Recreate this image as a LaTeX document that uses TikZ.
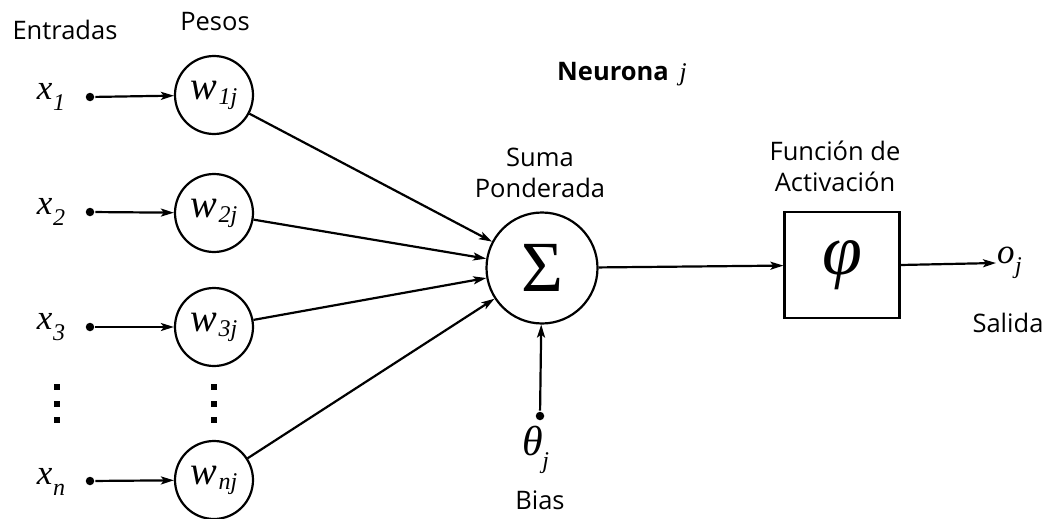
\documentclass[tikz,border=0pt]{standalone}
\usepackage{graphicx}
\usepackage{fontspec}
\setmainfont{Open Sans}
\newfontfamily\tm{Liberation Serif}
\usetikzlibrary{arrows.meta}
\newcommand\sbs[2][0.3em]{\raisebox{-#1}{\fontsize{24}{24}\selectfont #2}}
\newcommand\mvar[2]{{\tm\itshape #1\kern0.5pt\sbs{#2}}}
\newcommand\wvar[1]{{\tm\itshape\fontsize{40}{40}\selectfont w\kern1pt\sbs[0.12em]{#1}}}
\begin{document}
\begin{tikzpicture}[x=1pt,y=-1pt, line width=2.2pt,
  arr/.style={-{Stealth[length=13pt,width=8pt,inset=3pt]}},
  var/.style={font=\fontsize{35}{35}\selectfont, inner sep=0pt},
  wc/.style={circle,draw,minimum size=78pt,inner sep=0pt},
  lbl/.style={font=\fontsize{25.5}{31}\selectfont, align=center, inner sep=0pt},
  dotc/.style={circle,fill,inner sep=0pt,minimum size=8.5pt},
  vd/.style={fill,inner sep=0pt,minimum size=5.5pt}]
\useasboundingbox (0,0) rectangle (1047,519);

% labels
\node[lbl] (entradas) at (65,30) {Entradas};
\node[lbl] (pesos) at (215,22) {Pesos};
\node[lbl,font=\fontsize{25.5}{31}\selectfont\bfseries] (neurona) at (622,74) {Neurona \,{\tm\itshape\mdseries j}};
\node[lbl] (suma) at (540,173) {Suma\\Ponderada};
\node[lbl] (funcion) at (835,166) {Función de\\Activación};
\node[lbl] (salida) at (1008,323) {Salida};
\node[lbl] (bias) at (540,500) {Bias};

% inputs
\node[var] (x1) at (51,97) {\mvar{x}{1}};
\node[var] (x2) at (51,212) {\mvar{x}{2}};
\node[var] (x3) at (51,327) {\mvar{x}{3}};
\node[var] (xn) at (51,482) {\mvar{x}{n}};
\node[dotc] (d1) at (90,97) {};
\node[dotc] (d2) at (90,212) {};
\node[dotc] (d3) at (90,327) {};
\node[dotc] (dn) at (90,481) {};

% weights
\node[wc] (w1) at (214,95) {\wvar{1j}};
\node[wc] (w2) at (214,213) {\wvar{2j}};
\node[wc] (w3) at (214,327) {\wvar{3j}};
\node[wc] (wn) at (214,480) {\wvar{nj}};

% vertical dots
\node[vd] (a1) at (57,387) {};
\node[vd] (a2) at (57,404) {};
\node[vd] (a3) at (57,420) {};
\node[vd] (b1) at (214,387) {};
\node[vd] (b2) at (214,404) {};
\node[vd] (b3) at (214,420) {};

% sum, activation, output
\node[circle,draw,minimum size=111pt,inner sep=0pt,font=\tm\fontsize{72}{72}\selectfont] (sum) at (542,268) {Σ};
\node[draw,minimum width=115pt,minimum height=106pt,inner sep=0pt,font=\tm\itshape\fontsize{72}{72}\selectfont] (act) at (842,265) {φ};
\node[var,anchor=west] (out) at (996,263) {\mvar{o}{j}};
\node[dotc] (db) at (540,416) {};
\node[var,font=\tm\itshape\fontsize{42}{42}\selectfont] (theta) at (536,450) {θ\kern-1pt\sbs{j}};

% connectors
\draw[arr] (d1) -- (w1);
\draw[arr] (d2) -- (w2);
\draw[arr] (d3) -- (w3);
\draw[arr] (dn) -- (wn);
\draw[arr] (w1) -- (sum);
\draw[arr] (w2) -- (sum);
\draw[arr] (w3) -- (sum);
\draw[arr] (wn) -- (sum);
\draw[arr] (db) -- (sum);
\draw[arr] (sum) -- (act);
\draw[arr] (act.east) -- (out.west);
\end{tikzpicture}
\end{document}
